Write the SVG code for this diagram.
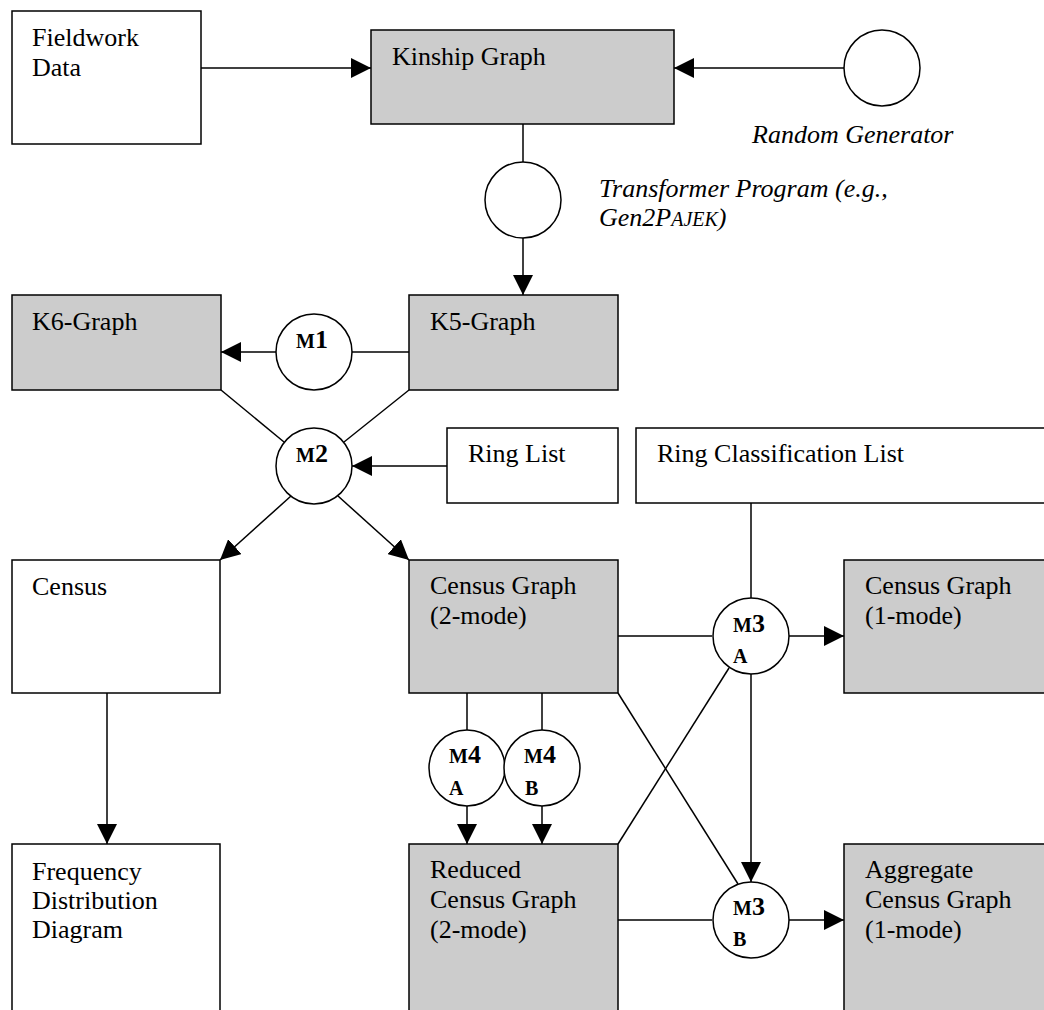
<svg xmlns="http://www.w3.org/2000/svg" width="1044" height="1010" viewBox="0 0 1044 1010">
<style>
.box{stroke:#000;stroke-width:1.5}
.w{fill:#fff}
.g{fill:#cccccc}
.c{fill:#fff;stroke:#000;stroke-width:1.5}
.t{font-family:"Liberation Serif","Times New Roman",serif;font-size:26px;fill:#000}
.i{font-style:italic}
.m{font-family:"Liberation Serif","Times New Roman",serif;font-weight:bold;fill:#000}
.ln{stroke:#000;stroke-width:1.5;fill:none}
.ar{marker-end:url(#ah)}
</style>
<defs>
<marker id="ah" markerUnits="userSpaceOnUse" markerWidth="20" markerHeight="20" refX="20" refY="10" orient="auto" viewBox="0 0 20 20">
<path d="M0,0 L20,10 L0,20 z" fill="#000"/>
</marker>
</defs>
<rect width="1044" height="1010" fill="#fff"/>

<g id="connectors">
<line class="ln ar" x1="201" y1="68" x2="371" y2="68"/>
<line class="ln ar" x1="844" y1="68" x2="674" y2="68"/>
<line class="ln" x1="523" y1="124" x2="523" y2="162"/>
<line class="ln ar" x1="523" y1="238" x2="523" y2="295"/>
<line class="ln" x1="409" y1="352" x2="352" y2="352"/>
<line class="ln ar" x1="276" y1="352" x2="221" y2="352"/>
<line class="ln" x1="221" y1="390" x2="284" y2="442"/>
<line class="ln" x1="409" y1="390" x2="344" y2="442"/>
<line class="ln ar" x1="447" y1="466" x2="352" y2="466"/>
<line class="ln ar" x1="291" y1="496" x2="220" y2="560"/>
<line class="ln ar" x1="338" y1="496" x2="409" y2="560"/>
<line class="ln" x1="751" y1="503" x2="751" y2="598"/>
<line class="ln" x1="618" y1="636" x2="712" y2="636"/>
<line class="ln ar" x1="788" y1="636" x2="844" y2="636"/>
<line class="ln ar" x1="107" y1="693" x2="107" y2="844"/>
<line class="ln" x1="467" y1="693" x2="467" y2="730"/>
<line class="ln ar" x1="467" y1="806" x2="467" y2="844"/>
<line class="ln" x1="542" y1="693" x2="542" y2="730"/>
<line class="ln ar" x1="542" y1="806" x2="542" y2="844"/>
<line class="ln" x1="618" y1="693" x2="738" y2="884"/>
<line class="ln" x1="618" y1="844" x2="729" y2="668"/>
<line class="ln ar" x1="751" y1="674" x2="751" y2="882"/>
<line class="ln" x1="618" y1="920" x2="712" y2="920"/>
<line class="ln ar" x1="788" y1="920" x2="844" y2="920"/>
</g>

<g id="fieldwork-data">
<rect class="box w" x="12" y="11" width="189" height="133"/>
<text class="t" x="32" y="46">Fieldwork</text>
<text class="t" x="32" y="76">Data</text>
</g>

<g id="kinship-graph">
<rect class="box g" x="371" y="30" width="303" height="94"/>
<text class="t" x="392" y="65">Kinship Graph</text>
</g>

<g id="random-generator">
<circle class="c" cx="882" cy="68" r="38"/>
<text class="t i" x="752" y="143">Random Generator</text>
</g>

<g id="transformer-program">
<circle class="c" cx="523" cy="200" r="38"/>
<text class="t i" x="599" y="197">Transformer Program (e.g.,</text>
<text class="t i" x="599" y="226">Gen2P<tspan font-size="20">AJEK</tspan>)</text>
</g>

<g id="k6-graph">
<rect class="box g" x="12" y="295" width="209" height="95"/>
<text class="t" x="32" y="330">K6-Graph</text>
</g>

<g id="k5-graph">
<rect class="box g" x="409" y="295" width="209" height="95"/>
<text class="t" x="430" y="330">K5-Graph</text>
</g>

<g id="m1">
<circle class="c" cx="314" cy="352" r="38"/>
<text class="m" x="296" y="348"><tspan font-size="20">M</tspan><tspan font-size="26">1</tspan></text>
</g>

<g id="m2">
<circle class="c" cx="314" cy="466" r="38"/>
<text class="m" x="296" y="462"><tspan font-size="20">M</tspan><tspan font-size="26">2</tspan></text>
</g>

<g id="ring-list">
<rect class="box w" x="447" y="428" width="171" height="75"/>
<text class="t" x="468" y="462">Ring List</text>
</g>

<g id="ring-classification-list">
<rect class="box w" x="636" y="428" width="420" height="75"/>
<text class="t" x="657" y="462">Ring Classification List</text>
</g>

<g id="census">
<rect class="box w" x="12" y="560" width="208" height="133"/>
<text class="t" x="32" y="595">Census</text>
</g>

<g id="census-graph-2mode">
<rect class="box g" x="409" y="560" width="209" height="133"/>
<text class="t" x="430" y="594">Census Graph</text>
<text class="t" x="430" y="624">(2-mode)</text>
</g>

<g id="m3a">
<circle class="c" cx="751" cy="636" r="38"/>
<text class="m" x="733" y="632"><tspan font-size="20">M</tspan><tspan font-size="26">3</tspan></text>
<text class="m" x="733" y="663" font-size="20">A</text>
</g>

<g id="census-graph-1mode">
<rect class="box g" x="844" y="560" width="212" height="133"/>
<text class="t" x="865" y="594">Census Graph</text>
<text class="t" x="865" y="624">(1-mode)</text>
</g>

<g id="m4a">
<circle class="c" cx="467" cy="768" r="38"/>
<text class="m" x="449" y="763"><tspan font-size="20">M</tspan><tspan font-size="26">4</tspan></text>
<text class="m" x="449" y="795" font-size="20">A</text>
</g>

<g id="m4b">
<circle class="c" cx="542" cy="768" r="38"/>
<text class="m" x="524" y="763"><tspan font-size="20">M</tspan><tspan font-size="26">4</tspan></text>
<text class="m" x="525" y="795" font-size="20">B</text>
</g>

<g id="frequency-distribution-diagram">
<rect class="box w" x="12" y="844" width="208" height="180"/>
<text class="t" x="32" y="880">Frequency</text>
<text class="t" x="32" y="909">Distribution</text>
<text class="t" x="32" y="938">Diagram</text>
</g>

<g id="reduced-census-graph">
<rect class="box g" x="409" y="844" width="209" height="180"/>
<text class="t" x="430" y="878">Reduced</text>
<text class="t" x="430" y="908">Census Graph</text>
<text class="t" x="430" y="938">(2-mode)</text>
</g>

<g id="m3b">
<circle class="c" cx="751" cy="920" r="38"/>
<text class="m" x="733" y="915"><tspan font-size="20">M</tspan><tspan font-size="26">3</tspan></text>
<text class="m" x="733" y="946" font-size="20">B</text>
</g>

<g id="aggregate-census-graph">
<rect class="box g" x="844" y="844" width="212" height="180"/>
<text class="t" x="865" y="878">Aggregate</text>
<text class="t" x="865" y="908">Census Graph</text>
<text class="t" x="865" y="938">(1-mode)</text>
</g>
</svg>
